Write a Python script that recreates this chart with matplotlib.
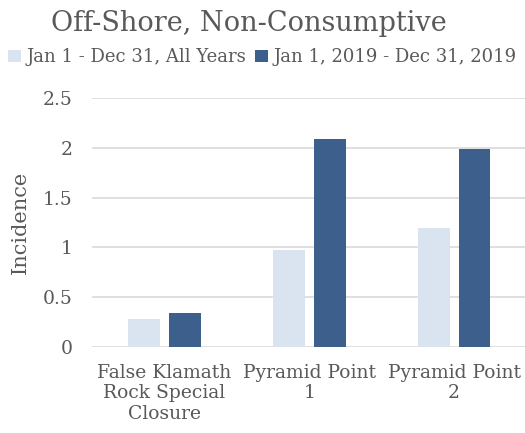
import numpy as np
import matplotlib.pyplot as plt

# data
categories = ["False Klamath\nRock Special\nClosure", "Pyramid Point\n1", "Pyramid Point\n2"]
all_years = [0.28, 0.97, 1.19]
year_2019 = [0.34, 2.09, 1.99]
series_labels = ["Jan 1 - Dec 31, All Years", "Jan 1, 2019 - Dec 31, 2019"]

light = "#DAE3F0"
dark = "#3D5F8C"
grey = "#595959"

plt.rcParams["font.family"] = ["DejaVu Serif"]

fig = plt.figure(figsize=(5.25, 4.33), dpi=100)
ax = fig.add_axes([0.175, 0.1986, 0.828, 0.575])

x = np.arange(len(categories))
w = 0.22
gap = 0.062
ax.bar(x - (w + gap) / 2, all_years, w, color=light, label=series_labels[0], zorder=2)
ax.bar(x + (w + gap) / 2, year_2019, w, color=dark, label=series_labels[1], zorder=2)

ax.set_xlim(-0.5, 2.5)
ax.set_ylim(0, 2.5)
ax.set_yticks([0, 0.5, 1, 1.5, 2, 2.5])
ax.set_yticklabels(["0", "0.5", "1", "1.5", "2", "2.5"])
ax.set_xticks(x)
ax.set_xticklabels(categories, linespacing=1.2)
ax.yaxis.grid(True, color="#D9D9D9", linewidth=1.2, zorder=0)
ax.tick_params(axis="both", length=0, labelsize=13.5, colors=grey)
ax.tick_params(axis="y", pad=14)
ax.tick_params(axis="x", pad=12)
for s in ax.spines.values():
    s.set_visible(False)
ax.set_ylabel("Incidence", fontsize=15, color=grey, labelpad=9)

fig.text(0.474, 0.945, "Off-Shore, Non-Consumptive", ha="center", va="center",
         fontsize=19.5, color=grey)
fig.legend(loc="center", bbox_to_anchor=(0.5, 0.868), ncol=2, frameon=False,
           fontsize=13, labelcolor=grey, handlelength=0.7, handleheight=0.7,
           handletextpad=0.3, columnspacing=0.5, borderaxespad=0)

fig.savefig("out.png", dpi=100)
